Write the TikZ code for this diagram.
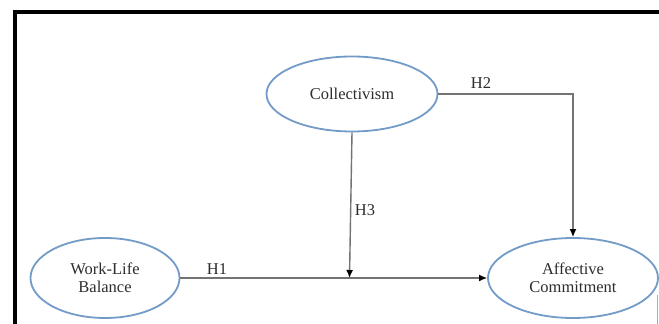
\documentclass[tikz,border=0pt]{standalone}
\usepackage{fontspec}
\setmainfont{Liberation Serif}
\usetikzlibrary{shapes.geometric,arrows.meta}
\definecolor{ellblue}{RGB}{115,155,200}
\definecolor{linegray}{RGB}{115,115,115}
\definecolor{txtgray}{RGB}{45,45,45}
\tikzset{
  construct/.style={ellipse,draw=ellblue,line width=1.8pt,inner sep=0pt,
    align=center,text=txtgray,font=\fontsize{16.5}{18.5}\selectfont},
  path/.style={draw=linegray,line width=1.4pt,-{Latex[length=8pt,width=7pt,black]}},
  hlabel/.style={text=txtgray,font=\fontsize{16.5}{18.5}\selectfont,inner sep=0pt}
}
\begin{document}
\begin{tikzpicture}[x=1pt,y=1pt]
\useasboundingbox (0,0) rectangle (659,324);
\fill[white] (0,0) rectangle (659,324);
% frame
\draw[black,line width=4pt] (14.7,0) -- (14.7,312) -- (659,312);
\draw[linegray!60,line width=1pt] (657,0) -- (657,29);
% constructs
\node[construct,minimum width=171pt,minimum height=75pt] (coll) at (352,230) {Collectivism};
\node[construct,minimum width=149pt,minimum height=80pt] (wlb) at (105,46) {Work-Life\\Balance};
\node[construct,minimum width=170pt,minimum height=80pt] (ac) at (573,46) {Affective\\Commitment};
\coordinate (j) at (349.5,46);
% paths
\draw[path] (wlb.east) -- (ac.west);
\draw[path] (coll.south) -- (j);
\draw[path] (coll.east) -| (ac.north);
% labels
\node[hlabel] (h1) at (217,55) {H1};
\node[hlabel] (h2) at (481,241) {H2};
\node[hlabel] (h3) at (365,114) {H3};
\end{tikzpicture}
\end{document}
